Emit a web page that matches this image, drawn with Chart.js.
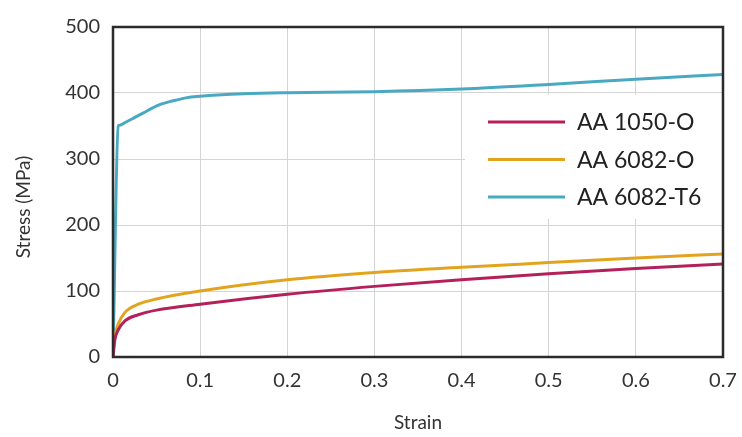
<!DOCTYPE html>
<html>
<head>
<meta charset="utf-8">
<script src="https://cdn.jsdelivr.net/npm/chart.js@4.4.1/dist/chart.umd.min.js"></script>
<style>
    body { margin: 0; background: #fff; }
    #contenedor { width: 742px; height: 437px; }
</style>
</head>
<body>
<div id="contenedor"><canvas id="graficaTension"></canvas></div>
<script>
// Datos (deformación / tensión en MPa)
const deformacion1050 = [0, 0.002, 0.006, 0.014, 0.029, 0.05, 0.1, 0.2, 0.3, 0.4, 0.5, 0.6, 0.7];
const tension1050 = [0, 25, 41, 55, 64, 71, 80, 95, 107, 117, 126, 134, 141];

const deformacion6082O = [0, 0.002, 0.006, 0.014, 0.029, 0.05, 0.1, 0.2, 0.3, 0.4, 0.5, 0.6, 0.7];
const tension6082O = [0, 30, 50, 68, 80, 88, 100, 117, 128, 136, 143, 150, 156];

const deformacion6082T6 = [0, 0.006, 0.0075, 0.015, 0.025, 0.035, 0.045, 0.055, 0.065, 0.075, 0.085, 0.1, 0.12, 0.15, 0.2, 0.3, 0.4, 0.5, 0.6, 0.7];
const tension6082T6 = [0, 350, 351, 356, 363, 370, 377, 383, 387, 390, 393, 395, 397, 399, 400.5, 402, 406, 413, 421, 428];

const etiquetasSeries = ["AA 1050-O", "AA 6082-O", "AA 6082-T6"];
const coloresSeries = ["#b4205a", "#e2a41f", "#4aa9c2"];

const ticksX = [0, 0.1, 0.2, 0.3, 0.4, 0.5, 0.6, 0.7];
const ticksY = [0, 100, 200, 300, 400, 500];

const fuente = "Lato";

function puntos(xs, ys) {
    return xs.map((x, i) => ({ x: x, y: ys[i] }));
}

// Leyenda dentro del área de la gráfica, con fondo blanco
const leyendaInterna = {
    id: "leyendaInterna",
    beforeDatasetsDraw(chart) {
        const ctx = chart.ctx;
        const area = chart.chartArea;
        ctx.save();
        ctx.fillStyle = "#fff";
        ctx.fillRect(area.right - 258, area.top + 68, 258, 124);
        ctx.font = "23px " + fuente;
        ctx.textBaseline = "middle";
        chart.data.datasets.forEach((ds, i) => {
            const y = area.top + 95 + i * 37.5;
            ctx.strokeStyle = ds.borderColor;
            ctx.lineWidth = 3;
            ctx.beginPath();
            ctx.moveTo(area.right - 235, y);
            ctx.lineTo(area.right - 158, y);
            ctx.stroke();
            ctx.fillStyle = "#222";
            ctx.fillText(ds.label, area.right - 146, y + 1);
        });
        ctx.restore();
    },
    afterDraw(chart) {
        const ctx = chart.ctx;
        const area = chart.chartArea;
        ctx.save();
        // Marco
        ctx.strokeStyle = "#2b2b2b";
        ctx.lineWidth = 2.5;
        ctx.strokeRect(area.left, area.top, area.right - area.left, area.bottom - area.top);
        // Títulos de los ejes
        ctx.fillStyle = "#333";
        ctx.font = "19px " + fuente;
        ctx.textAlign = "center";
        ctx.textBaseline = "middle";
        ctx.fillText("Strain", (area.left + area.right) / 2, 423);
        ctx.translate(24, 207);
        ctx.rotate(-Math.PI / 2);
        ctx.fillText("Stress (MPa)", 0, 0);
        ctx.restore();
    }
};

document.addEventListener("DOMContentLoaded", function () {
    const ctx = document.getElementById("graficaTension").getContext("2d");

    const series = [
        puntos(deformacion1050, tension1050),
        puntos(deformacion6082O, tension6082O),
        puntos(deformacion6082T6, tension6082T6)
    ];

    new Chart(ctx, {
        type: "scatter",
        data: {
            datasets: series.map((datos, i) => ({
                label: etiquetasSeries[i],
                data: datos,
                showLine: true,
                borderColor: coloresSeries[i],
                backgroundColor: coloresSeries[i],
                borderWidth: 3,
                pointRadius: 0,
                cubicInterpolationMode: "monotone"
            }))
        },
        options: {
            responsive: true,
            maintainAspectRatio: false,
            animation: false,
            layout: { padding: { top: 27, right: 19, bottom: 0, left: 0 } },
            plugins: {
                legend: { display: false },
                tooltip: { enabled: false }
            },
            scales: {
                x: {
                    type: "linear",
                    min: 0,
                    max: 0.7,
                    afterBuildTicks: axis => { axis.ticks = ticksX.map(v => ({ value: v })); },
                    afterFit: axis => {
                        axis.height = 80;
                        axis.paddingLeft = 0;
                        axis.paddingRight = 0;
                    },
                    grid: { color: "#d4d4d4", lineWidth: 1, drawTicks: false },
                    border: { display: false },
                    ticks: {
                        padding: 12,
                        color: "#333",
                        font: { family: fuente, size: 20 },
                        maxRotation: 0,
                        callback: v => (v === 0 ? "0" : v.toFixed(1))
                    }
                },
                y: {
                    min: 0,
                    max: 500,
                    afterBuildTicks: axis => { axis.ticks = ticksY.map(v => ({ value: v })); },
                    afterFit: axis => { axis.width = 113; },
                    grid: { color: "#d4d4d4", lineWidth: 1, drawTicks: false },
                    border: { display: false },
                    ticks: {
                        padding: 13,
                        color: "#333",
                        font: { family: fuente, size: 20 }
                    }
                }
            }
        },
        plugins: [leyendaInterna]
    });
});
</script>
</body>
</html>
